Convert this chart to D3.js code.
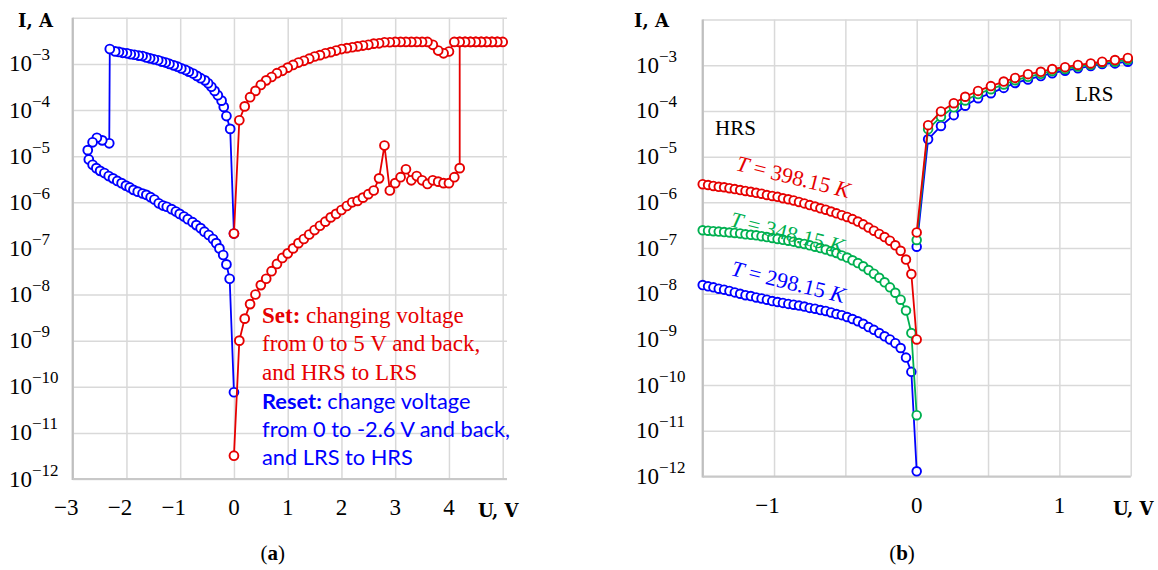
<!DOCTYPE html>
<html>
<head>
<meta charset="utf-8">
<script src="https://d3js.org/d3.v7.min.js"></script>
<style>
  body { margin: 0; background: #fff; }
  .grid line { stroke: #d9d9d9; stroke-width: 1.5px; }
  .grid path { display: none; }
  .tick-label { font-family: "Liberation Serif", serif; font-size: 23px; fill: #000; }
  .axis-name { font-family: "DejaVu Serif", serif; font-weight: bold; font-size: 18px; fill: #000; }
</style>
</head>
<body>
<svg width="1158" height="570"></svg>
<script>
// ---------- panel (a): set / reset loops ----------
var setU = [0, 0.1, 0.2, 0.3, 0.4, 0.5, 0.6, 0.7, 0.8, 0.9, 1.0, 1.1, 1.2, 1.3, 1.4, 1.5, 1.6, 1.7, 1.8, 1.9,
  2.0, 2.1, 2.2, 2.3, 2.4, 2.5, 2.6, 2.7, 2.8, 2.9, 3.0, 3.1, 3.2, 3.3, 3.4, 3.5, 3.6, 3.7, 3.8, 3.9, 4.0, 4.1, 4.2,
  4.2, 4.3, 4.4, 4.5, 4.6, 4.7, 4.8, 4.9, 5.0,
  4.9, 4.8, 4.7, 4.6, 4.5, 4.4, 4.3, 4.2, 4.1, 4.0, 3.9, 3.8, 3.7, 3.6, 3.5, 3.4, 3.3, 3.2, 3.1, 3.0,
  2.9, 2.8, 2.7, 2.6, 2.5, 2.4, 2.3, 2.2, 2.1, 2.0, 1.9, 1.8, 1.7, 1.6, 1.5, 1.4, 1.3, 1.2, 1.1, 1.0,
  0.9, 0.8, 0.7, 0.6, 0.5, 0.4, 0.3, 0.2, 0.1, 0];
var setI = [3.2e-12, 1.0e-9, 3.0e-9, 6.2e-9, 1.0e-8, 1.6e-8, 2.2e-8, 3.2e-8, 4.6e-8, 6.2e-8, 7.8e-8, 1.0e-7,
  1.3e-7, 1.6e-7, 2.0e-7, 2.5e-7, 3.1e-7, 3.8e-7, 4.7e-7, 5.6e-7, 6.8e-7, 8.3e-7, 1.0e-6, 1.07e-6, 1.26e-6,
  1.5e-6, 1.8e-6, 3.3e-6, 1.7e-5, 1.8e-6, 2.6e-6, 3.5e-6, 5.2e-6, 3.0e-6, 3.7e-6, 3.0e-6, 2.5e-6, 3.0e-6,
  2.8e-6, 2.6e-6, 2.6e-6, 3.5e-6, 5.5e-6,
  3.0e-3, 3.0e-3, 3.0e-3, 3.0e-3, 3.0e-3, 3.0e-3, 3.0e-3, 3.0e-3, 3.0e-3,
  3.0e-3, 3.0e-3, 3.0e-3, 3.0e-3, 3.0e-3, 3.0e-3, 3.0e-3, 3.0e-3, 3.0e-3, 1.86e-3, 1.7e-3, 1.95e-3, 2.6e-3,
  3.0e-3, 3.0e-3, 3.0e-3, 3.0e-3, 3.0e-3, 3.0e-3, 3.0e-3,
  2.95e-3, 2.95e-3, 2.8e-3, 2.75e-3, 2.6e-3, 2.5e-3, 2.4e-3, 2.3e-3, 2.2e-3, 2.1e-3, 1.95e-3, 1.8e-3,
  1.7e-3, 1.55e-3, 1.45e-3, 1.3e-3, 1.17e-3, 1.07e-3, 9.5e-4, 8.3e-4,
  7.1e-4, 6.3e-4, 5.2e-4, 4.4e-4, 3.5e-4, 2.6e-4, 1.9e-4, 1.2e-4, 6.0e-5, 2.1e-7];

var resetU = [0, -0.07, -0.14, -0.19, -0.23, -0.30, -0.36, -0.42, -0.48, -0.54, -0.62,
  -0.69, -0.76, -0.84, -0.90, -0.98, -1.05, -1.12, -1.20, -1.27, -1.34,
  -1.41, -1.49, -1.56, -1.63, -1.70, -1.77, -1.85, -1.92, -1.99, -2.07,
  -2.14, -2.21, -2.31,
  -2.32, -2.45, -2.55, -2.63, -2.72,
  -2.70, -2.63, -2.56, -2.49, -2.41, -2.33, -2.25, -2.17, -2.09, -2.01,
  -1.94, -1.87, -1.79, -1.70, -1.63, -1.55, -1.48, -1.40, -1.32, -1.25,
  -1.16, -1.08, -1.01, -0.93, -0.86, -0.77, -0.70, -0.62, -0.55, -0.47,
  -0.39, -0.33, -0.27, -0.20, -0.14, -0.08, 0];
var resetI = [2.1e-7, 3.9e-5, 7.4e-5, 1.17e-4, 1.6e-4, 2.1e-4, 2.6e-4, 3.2e-4, 3.8e-4, 4.4e-4, 4.9e-4,
  5.5e-4, 6.2e-4, 6.8e-4, 7.4e-4, 8.0e-4, 8.7e-4, 9.3e-4, 1.0e-3, 1.07e-3, 1.12e-3,
  1.2e-3, 1.26e-3, 1.32e-3, 1.38e-3, 1.48e-3, 1.51e-3, 1.58e-3, 1.62e-3, 1.7e-3, 1.74e-3,
  1.82e-3, 1.87e-3, 2.1e-3,
  1.9e-5, 2.2e-5, 2.5e-5, 2.0e-5, 1.35e-5,
  8.5e-6, 6.5e-6, 5.5e-6, 4.8e-6, 4.3e-6, 3.7e-6, 3.3e-6, 2.9e-6, 2.6e-6, 2.3e-6,
  2.1e-6, 1.86e-6, 1.7e-6, 1.55e-6, 1.45e-6, 1.29e-6, 1.15e-6, 9.5e-7, 8.5e-7, 8.0e-7,
  7.1e-7, 6.3e-7, 5.6e-7, 4.9e-7, 4.3e-7, 3.7e-7, 3.2e-7, 2.75e-7, 2.3e-7, 1.95e-7,
  1.6e-7, 1.3e-7, 1.0e-7, 7.2e-8, 4.5e-8, 2.2e-8, 7.6e-11];

// ---------- panel (b): temperature series ----------
var hrsU = [-1.5, -1.4625, -1.425, -1.3875, -1.35, -1.3125, -1.275, -1.2375, -1.2, -1.1625,
  -1.125, -1.0875, -1.05, -1.0125, -0.975, -0.9375, -0.9, -0.8625, -0.825, -0.7875,
  -0.75, -0.7125, -0.675, -0.6375, -0.6, -0.5625, -0.525, -0.4875, -0.45, -0.4125,
  -0.375, -0.3375, -0.3, -0.2625, -0.225, -0.1875, -0.15, -0.1125, -0.075, -0.0375, 0];
var lrsU = [0, 0.08, 0.17, 0.26, 0.34, 0.43, 0.52, 0.61, 0.69, 0.78, 0.87, 0.95, 1.04, 1.13, 1.22, 1.30, 1.39, 1.48];

var hrs298 = [1.55e-8, 1.45e-8, 1.38e-8, 1.29e-8, 1.23e-8, 1.15e-8, 1.07e-8, 1.0e-8, 9.3e-9, 8.9e-9,
  8.3e-9, 7.9e-9, 7.4e-9, 6.9e-9, 6.6e-9, 6.3e-9, 6.0e-9, 5.75e-9, 5.5e-9, 5.25e-9,
  4.9e-9, 4.7e-9, 4.4e-9, 4.2e-9, 3.9e-9, 3.6e-9, 3.4e-9, 3.1e-9, 2.8e-9, 2.5e-9,
  2.2e-9, 1.86e-9, 1.62e-9, 1.38e-9, 1.17e-9, 1.0e-9, 8.3e-10, 6.5e-10, 4.0e-10, 1.95e-10, 1.3e-12];
var hrs348 = [2.45e-7, 2.4e-7, 2.34e-7, 2.29e-7, 2.24e-7, 2.19e-7, 2.14e-7, 2.09e-7, 2.0e-7, 1.95e-7,
  1.9e-7, 1.82e-7, 1.74e-7, 1.66e-7, 1.58e-7, 1.51e-7, 1.45e-7, 1.38e-7, 1.29e-7, 1.23e-7,
  1.15e-7, 1.07e-7, 1.0e-7, 9.3e-8, 8.5e-8, 7.8e-8, 6.9e-8, 6.2e-8, 5.4e-8, 4.7e-8,
  4.0e-8, 3.3e-8, 2.75e-8, 2.24e-8, 1.78e-8, 1.38e-8, 1.05e-8, 7.4e-9, 4.3e-9, 1.38e-9, 2.2e-11];
var hrs398 = [2.5e-6, 2.4e-6, 2.29e-6, 2.19e-6, 2.14e-6, 2.04e-6, 1.95e-6, 1.86e-6, 1.78e-6, 1.70e-6,
  1.62e-6, 1.55e-6, 1.45e-6, 1.38e-6, 1.32e-6, 1.23e-6, 1.17e-6, 1.10e-6, 1.02e-6, 9.5e-7,
  8.7e-7, 8.1e-7, 7.4e-7, 6.9e-7, 6.3e-7, 5.75e-7, 5.25e-7, 4.8e-7, 4.3e-7, 3.8e-7,
  3.3e-7, 2.8e-7, 2.4e-7, 2.04e-7, 1.74e-7, 1.45e-7, 1.15e-7, 8.7e-8, 5.6e-8, 2.7e-8, 1.0e-9];
var lrs298 = [1.07e-7, 2.4e-5, 4.7e-5, 8.1e-5, 1.3e-4, 1.9e-4, 2.45e-4, 3.2e-4, 4.1e-4, 4.9e-4,
  5.8e-4, 6.7e-4, 7.6e-4, 8.6e-4, 9.6e-4, 1.07e-3, 1.1e-3, 1.2e-3];
var lrs348 = [1.5e-7, 4.0e-5, 7.5e-5, 1.2e-4, 1.7e-4, 2.35e-4, 3.0e-4, 3.8e-4, 4.7e-4, 5.6e-4,
  6.5e-4, 7.5e-4, 8.3e-4, 9.4e-4, 1.03e-3, 1.13e-3, 1.2e-3, 1.32e-3];
var lrs398 = [2.2e-7, 4.9e-5, 9.8e-5, 1.48e-4, 2.05e-4, 2.75e-4, 3.5e-4, 4.4e-4, 5.3e-4, 6.4e-4,
  7.2e-4, 8.3e-4, 9.1e-4, 1.02e-3, 1.1e-3, 1.2e-3, 1.3e-3, 1.45e-3];

// ticks
var decades = [1e-12, 1e-11, 1e-10, 1e-9, 1e-8, 1e-7, 1e-6, 1e-5, 1e-4, 1e-3, 1e-2];
var decadeLabels = [1e-12, 1e-11, 1e-10, 1e-9, 1e-8, 1e-7, 1e-6, 1e-5, 1e-4, 1e-3];
var xGridA = [-3, -2, -1, 0, 1, 2, 3, 4, 5];
var xLabelsA = [-3, -2, -1, 0, 1, 2, 3, 4];
var xGridB = [-1.5, -1, -0.5, 0, 0.5, 1, 1.5];
var xLabelsB = [-1, 0, 1];

var BLUE = "#0000ff", RED = "#e60000", GREEN = "#00b050";

var svg = d3.select("svg");

function zip(u, i) { return u.map(function(d, k) { return {u: d, i: i[k]}; }); }

function makePanel(cfg) {
  var x = d3.scaleLinear().domain(cfg.xDomain).range([cfg.left, cfg.right]);
  var y = d3.scaleLog().domain([1e-12, 1e-2]).range([cfg.bottom, cfg.top]);

  // horizontal grid
  svg.append("g").attr("class", "grid")
    .attr("transform", "translate(" + cfg.left + ",0)")
    .call(d3.axisLeft(y).tickValues(decades).tickSize(-(cfg.gridRight - cfg.left)).tickFormat(""));
  // vertical grid
  svg.append("g").attr("class", "grid")
    .attr("transform", "translate(0," + cfg.bottom + ")")
    .call(d3.axisBottom(x).tickValues(cfg.xGrid).tickSize(cfg.bottom - cfg.top).tickFormat(""))
    .selectAll("line").attr("y2", -(cfg.bottom - cfg.top));

  // axis lines
  svg.append("line").attr("x1", cfg.left).attr("x2", cfg.left)
    .attr("y1", cfg.top).attr("y2", cfg.bottom + 1)
    .attr("stroke", "#bfbfbf").attr("stroke-width", 2.2);
  svg.append("line").attr("x1", cfg.left).attr("x2", cfg.gridRight)
    .attr("y1", cfg.bottom).attr("y2", cfg.bottom)
    .attr("stroke", "#c8c8c8").attr("stroke-width", 2);

  // y tick labels: 10^n
  var yl = svg.append("g").selectAll("text").data(decadeLabels).enter().append("text")
    .attr("class", "tick-label")
    .attr("x", cfg.yLabelX)
    .attr("y", function(d) { return y(d) + 7.5; });
  yl.append("tspan").text("10");
  yl.append("tspan").attr("dy", -11).style("font-size", "17px")
    .text(function(d) { return "\u2212" + Math.round(-Math.log10(d)); });

  // x tick labels (digit centred on tick)
  svg.append("g").selectAll("text").data(cfg.xLabels).enter().append("text")
    .attr("class", "tick-label")
    .attr("text-anchor", "end")
    .attr("x", function(d) { return x(d) + 5.8; })
    .attr("y", cfg.bottom + 36)
    .text(function(d) { return d < 0 ? "\u2212" + (-d) : String(d); });

  svg.append("text").attr("class", "axis-name").attr("x", cfg.uX).attr("y", cfg.bottom + 38).text("U, V");
  svg.append("text").attr("class", "axis-name").attr("x", cfg.iX).attr("y", 27).text("I, A");

  return {x: x, y: y};
}

function drawSeries(sc, pts, color, r) {
  var line = d3.line().x(function(d) { return sc.x(d.u); }).y(function(d) { return sc.y(d.i); });
  var g = svg.append("g");
  g.append("path").datum(pts).attr("d", line)
    .attr("fill", "none").attr("stroke", color).attr("stroke-width", 1.8);
  g.selectAll("circle").data(pts).enter().append("circle")
    .attr("cx", function(d) { return sc.x(d.u); })
    .attr("cy", function(d) { return sc.y(d.i); })
    .attr("r", r)
    .attr("fill", "#fff").attr("stroke", color).attr("stroke-width", 1.9);
}

// ----- panel a -----
var A = makePanel({xDomain: [-3, 5], left: 72.7, right: 502.7, gridRight: 507, top: 17.8, bottom: 479,
  xGrid: xGridA, xLabels: xLabelsA, yLabelX: 9, uX: 478, iX: 18});
drawSeries(A, zip(resetU, resetI), BLUE, 4.4);
drawSeries(A, zip(setU, setI), RED, 4.4);

var note = svg.append("g");
var setLines = [["Set:", " changing voltage"], ["", "from 0 to 5 V and back,"], ["", "and HRS to LRS"]];
var resetLines = [["Reset:", " change voltage"], ["", "from 0 to -2.6 V and back,"], ["", "and LRS to HRS"]];
setLines.forEach(function(l, k) {
  var t = note.append("text").attr("x", 262).attr("y", 322.7 + k * 28.4)
    .style("font-family", "'Liberation Serif', serif").style("font-size", "23px").attr("fill", RED);
  if (l[0]) t.append("tspan").style("font-weight", "bold").text(l[0]);
  t.append("tspan").text(l[1]);
});
resetLines.forEach(function(l, k) {
  var t = note.append("text").attr("x", 262).attr("y", 408.5 + k * 28.4)
    .style("font-family", "Lato, sans-serif").style("font-size", "21.8px").attr("fill", BLUE);
  if (l[0]) t.append("tspan").style("font-weight", "bold").text(l[0]);
  t.append("tspan").text(l[1]);
});

// ----- panel b -----
var B = makePanel({xDomain: [-1.5, 1.5], left: 702.7, right: 1130.7, gridRight: 1130.7, top: 19.6, bottom: 476.5,
  xGrid: xGridB, xLabels: xLabelsB, yLabelX: 636, uX: 1113, iX: 634});
drawSeries(B, zip(hrsU, hrs298), BLUE, 4.3);
drawSeries(B, zip(lrsU, lrs298), BLUE, 4.3);
drawSeries(B, zip(hrsU, hrs348), GREEN, 4.3);
drawSeries(B, zip(lrsU, lrs348), GREEN, 4.3);
drawSeries(B, zip(hrsU, hrs398), RED, 4.3);
drawSeries(B, zip(lrsU, lrs398), RED, 4.3);

var tLabels = [{v: "398.15", x: 735, y: 170, c: RED}, {v: "348.15", x: 729, y: 226, c: GREEN}, {v: "298.15", x: 730, y: 275, c: BLUE}];
tLabels.forEach(function(d) {
  var t = svg.append("text")
    .attr("transform", "translate(" + d.x + "," + d.y + ") rotate(14)")
    .style("font-family", "'Liberation Serif', serif").style("font-size", "22px").attr("fill", d.c);
  t.append("tspan").style("font-style", "italic").text("T");
  t.append("tspan").text(" = " + d.v + " ");
  t.append("tspan").style("font-style", "italic").text("K");
});

svg.append("text").attr("x", 715).attr("y", 135).style("font-family", "'Liberation Serif', serif")
  .style("font-size", "21px").text("HRS");
svg.append("text").attr("x", 1075).attr("y", 101).style("font-family", "'Liberation Serif', serif")
  .style("font-size", "21px").text("LRS");

// sub-figure captions
[["a", 272.7], ["b", 902]].forEach(function(c) {
  var t = svg.append("text").attr("x", c[1]).attr("y", 560).attr("text-anchor", "middle")
    .style("font-family", "'Liberation Serif', serif").style("font-size", "21px");
  t.append("tspan").text("(");
  t.append("tspan").style("font-weight", "bold").text(c[0]);
  t.append("tspan").text(")");
});
</script>
</body>
</html>
